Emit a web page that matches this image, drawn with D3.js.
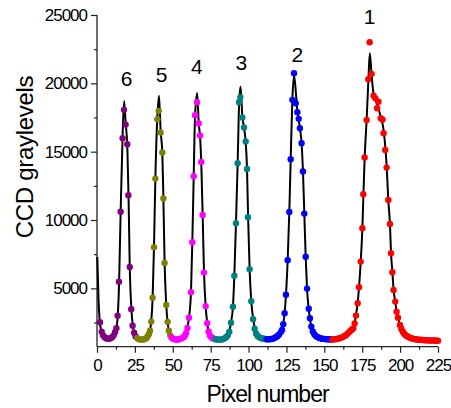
<!DOCTYPE html>
<html><head><meta charset="utf-8">
<script src="https://cdn.jsdelivr.net/npm/d3@7"></script>
<style>
html,body{margin:0;padding:0;background:#fff;}
svg{display:block;font-family:"Liberation Sans",Arial,sans-serif;}
</style>
</head><body>
<svg id="chart" width="451" height="408"></svg>
<script>
// ---- data (pixel number, CCD gray level) ----
const purple = [[2.0,2520],[3.1,1830],[4.0,1560],[5.0,1420],[6.0,1350],[7.0,1320],[8.0,1320],[9.0,1350],[10.0,1420],[11.0,1560],[11.9,1800],[12.8,2080],[13.6,3000],[14.5,5490],[15.6,10610],[16.9,15990],[17.8,18060],[18.9,16980],[20.0,15550],[20.7,11810],[21.6,6570],[22.6,3470],[23.5,2270],[24.5,1750],[25.5,1480]];
const olive = [[26.5,1360],[27.5,1290],[28.5,1260],[29.5,1250],[30.5,1260],[31.5,1290],[32.5,1350],[33.4,1480],[34.2,1650],[35.0,1905],[35.8,2565],[36.7,4320],[37.6,8005],[38.5,13030],[39.8,17375],[40.7,17985],[42.0,16400],[43.1,14935],[43.8,11570],[44.6,6860],[45.7,3785],[46.6,2550],[47.4,1900],[48.3,1560]];
const magenta = [[49.2,1400],[50.2,1320],[51.2,1280],[52.2,1260],[53.2,1260],[54.2,1280],[55.2,1310],[56.2,1360],[57.2,1430],[58.0,1550],[58.8,1730],[59.7,2100],[60.7,2855],[62.0,4710],[62.9,8370],[63.8,13200],[64.7,17670],[66.0,18620],[67.1,17060],[68.0,16180],[68.8,14250],[69.7,10370],[70.6,6150],[71.7,3700],[72.7,2450],[73.6,1850],[74.5,1550],[75.4,1420],[76.3,1350],[77.2,1310]];
const teal = [[78.2,1280],[79.2,1260],[80.2,1250],[81.2,1250],[82.2,1260],[83.2,1290],[84.2,1340],[85.2,1420],[86.3,1560],[87.3,1830],[88.4,2490],[89.7,3660],[90.6,5930],[91.7,9765],[92.8,14155],[93.7,18620],[94.6,18985],[95.9,17500],[97.0,16765],[98.1,15740],[99.0,13740],[99.6,10200],[100.7,6395],[101.8,4055],[103.0,2735],[104.0,2050],[105.0,1700],[106.0,1520],[107.0,1420],[108.0,1370],[109.0,1330],[110.0,1310],[111.0,1290]];
const blue = [[112,1280],[113,1270],[114,1270],[115,1290],[116,1320],[117,1360],[118,1420],[119,1500],[120,1600],[121.2,1780],[122.1,1955],[122.9,2370],[123.8,3175],[124.7,4540],[125.8,7055],[126.9,10590],[127.8,14450],[128.9,18790],[130.0,20745],[131.1,18545],[132.2,17890],[133.1,17400],[133.9,16715],[135.0,15620],[135.9,13545],[136.8,10470],[137.7,7320],[138.6,4980],[139.7,3515],[140.5,2810],[141.4,2200],[142.4,1850],[143.4,1640],[144.4,1520],[145.4,1440],[146.4,1390],[147.4,1350],[148.4,1320],[149.4,1300],[150.4,1290],[151.4,1280],[152.4,1270],[153.4,1270],[154.4,1260]];
const red = [[155.4,1260],[156.4,1270],[157.4,1280],[158.4,1300],[159.4,1330],[160.4,1360],[161.4,1400],[162.4,1450],[163.4,1510],[164.4,1590],[165.4,1690],[166.4,1800],[167.4,1910],[168.3,1990],[169.1,2075],[170.0,2440],[170.9,3005],[172.0,3905],[172.9,5080],[174.0,6955],[175.1,9395],[175.7,11885],[176.6,14570],[177.9,17325],[179.0,20305],[179.9,23010],[181.2,20695],[182.5,19100],[183.7,18900],[184.8,18180],[185.7,18650],[187.2,17450],[188.4,17350],[189.1,16350],[190.2,15130],[191.1,13835],[192.2,11470],[193.3,9715],[194.0,7565],[194.9,6175],[195.7,4880],[196.8,4030],[197.7,3295],[198.6,2855],[199.9,2320],[200.8,2050],[201.7,1850],[202.6,1700],[203.5,1590],[204.4,1510],[205.3,1450],[206.2,1400],[207.1,1360],[208,1330],[209,1300],[210,1280],[211,1260],[212,1250],[213,1240],[214,1230],[215,1220],[216,1210],[217,1200],[218,1200],[219,1190],[220,1190],[221,1180],[222,1180],[223,1180],[224,1170],[225,1170]];

// fitted curve (black line)
const fit = [[0.2,7300],[1.0,4200],[1.8,2600],[2.8,1900],[4,1550],[6,1370],[8,1330],[10,1450],[11.5,1700],[12.8,2100],[13.7,3000],[14.6,5500],[15.6,10600],[16.9,16200],[17.9,18700],[18.9,17100],[20.0,15400],[20.8,11800],[21.6,6600],[22.7,3500],[23.6,2300],[24.8,1650],[26.5,1350],[29,1260],[32,1330],[34,1650],[35.0,1950],[35.8,2600],[36.7,4300],[37.6,8000],[38.5,13000],[39.8,17500],[40.9,19100],[42.0,16500],[43.1,14900],[43.8,11600],[44.6,6900],[45.7,3800],[46.6,2500],[47.6,1850],[49,1450],[51,1280],[53,1270],[56,1420],[58.4,1730],[59.5,2150],[60.7,2850],[62.0,4700],[62.9,8400],[63.8,13200],[64.7,17600],[66.1,19300],[67.1,17100],[68.0,16100],[68.8,14200],[69.7,10400],[70.6,6200],[71.7,3700],[72.8,2400],[74,1700],[76,1380],[79,1250],[82,1260],[85,1420],[87.3,1830],[88.4,2500],[89.7,3650],[90.6,5900],[91.7,9750],[92.8,14150],[93.8,18600],[94.7,19750],[95.9,17600],[97.0,16750],[98.1,15700],[99.0,13700],[99.7,10200],[100.7,6400],[101.8,4050],[103.2,2700],[104.5,1900],[106.5,1480],[110,1300],[114,1280],[118,1440],[121.2,1780],[122.1,2000],[122.9,2400],[123.8,3200],[124.7,4550],[125.8,7050],[126.9,10600],[127.8,14450],[128.9,18800],[130.0,20600],[131.1,19500],[132.2,17900],[133.1,17350],[133.9,16700],[135.0,15600],[135.9,13550],[136.8,10450],[137.7,7300],[138.6,4950],[139.7,3500],[140.5,2800],[141.4,2200],[143,1700],[146,1420],[150,1320],[155,1260],[160,1370],[164,1600],[167,1950],[169.1,2150],[170.0,2500],[170.9,3050],[172.0,3950],[172.9,5100],[174.0,6950],[175.1,9400],[175.8,11900],[176.6,14550],[177.9,17300],[179.1,20300],[180.0,22200],[181.2,20600],[182.5,19200],[184,18700],[185.5,18300],[187.2,17500],[188.5,17000],[189.4,16300],[190.4,15100],[191.2,13800],[192.2,11450],[193.3,9700],[194.0,7600],[194.9,6200],[195.7,4900],[196.8,4000],[197.7,3300],[198.6,2850],[200,2300],[202,1800],[205,1460],[210,1280],[215,1220],[220,1190],[225,1180]];

const seriesColors = ["#800080","#808000","#ff00ff","#008080","#0000ff","#ff0000"];
const xTicks = [0,25,50,75,100,125,150,175,200,225];
const xMinor = [12.5,37.5,62.5,87.5,112.5,137.5,162.5,187.5,212.5];
const yTicks = [5000,10000,15000,20000,25000];
const yMinor = [2500,7500,12500,17500,22500];
const peakLabels = ["6","5","4","3","2","1"];
const peakLabelX = [19.6,42.7,65.8,95.3,132.2,179.8];
const peakLabelY = [19800,20120,20680,20980,21560,24340];

// ---- drawing ----
const svg = d3.select("#chart");
const x = d3.scaleLinear().domain([0,225]).range([97,438]);
const y = d3.scaleLinear().domain([730,25000]).range([346.7,15]);

const axisColor = "#222";
const tickFont = "17px";

// minor ticks
const gx = svg.append("g").attr("transform","translate(0,346.7)");
gx.call(d3.axisBottom(x).tickValues(xMinor).tickSize(3).tickFormat(""));
const gy = svg.append("g").attr("transform","translate(97,0)");
gy.call(d3.axisLeft(y).tickValues(yMinor).tickSize(3).tickFormat(""));

const gx2 = svg.append("g").attr("transform","translate(0,346.7)")
  .call(d3.axisBottom(x).tickValues(xTicks).tickSize(6).tickPadding(6).tickFormat(d3.format("d")));
const gy2 = svg.append("g").attr("transform","translate(97,0)")
  .call(d3.axisLeft(y).tickValues(yTicks).tickSize(6).tickPadding(4).tickFormat(d3.format("d")));

[gx,gy,gx2,gy2].forEach(g=>{
  g.selectAll("path.domain").attr("stroke",axisColor).attr("stroke-width",1.3);
  g.selectAll(".tick line").attr("stroke",axisColor).attr("stroke-width",1.2);
  g.selectAll("text").attr("fill","#000").style("font-size",tickFont).style("letter-spacing","-1px")
    .style("font-family","'Liberation Sans',Arial,sans-serif");
});
gy2.selectAll("path.domain").attr("d","M0,346.7V15");
gx2.selectAll("path.domain").attr("d","M97,0H438");
gy.selectAll("path.domain").remove();
gx.selectAll("path.domain").remove();

// fit line
const line = d3.line().x(d=>x(d[0])).y(d=>y(d[1])).curve(d3.curveMonotoneX);
svg.append("path").datum(fit).attr("d",line)
  .attr("fill","none").attr("stroke","#000").attr("stroke-width",2).attr("stroke-linejoin","round");

// points
const allSeries = [purple, olive, magenta, teal, blue, red];
allSeries.forEach((s,i)=>{
  svg.append("g").selectAll("circle").data(s).join("circle")
    .attr("cx",d=>x(d[0])).attr("cy",d=>y(d[1])).attr("r",3.2)
    .attr("fill",seriesColors[i]);
});

// peak labels
svg.append("g").selectAll("text").data(peakLabels).join("text")
  .attr("x",(d,i)=>x(peakLabelX[i])).attr("y",(d,i)=>y(peakLabelY[i]))
  .attr("text-anchor","middle").style("font-size","21px").attr("fill","#000")
  .text(d=>d);

// axis titles
svg.append("text").attr("transform","translate(33,157) rotate(-90)")
  .attr("text-anchor","middle").style("font-size","24px").style("letter-spacing","-0.3px")
  .attr("fill","#000").text("CCD graylevels");
svg.append("text").attr("x",267.5).attr("y",402)
  .attr("text-anchor","middle").style("font-size","23px").style("letter-spacing","-1px")
  .attr("fill","#000").text("Pixel number");
</script>
</body></html>
